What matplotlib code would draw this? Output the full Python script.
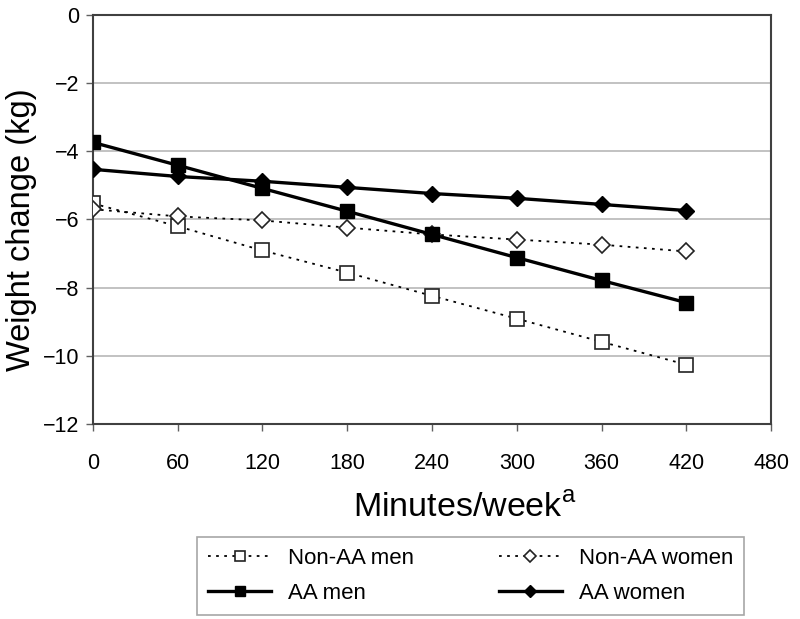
import matplotlib
matplotlib.use("Agg")
import matplotlib.pyplot as plt

plt.rcParams['font.family'] = ['Liberation Sans', 'DejaVu Sans']

minutes = [0, 60, 120, 180, 240, 300, 360, 420]
non_aa_men = [-5.53, -6.20, -6.91, -7.56, -8.24, -8.91, -9.59, -10.26]
non_aa_women = [-5.70, -5.91, -6.03, -6.24, -6.44, -6.59, -6.74, -6.94]
aa_men = [-3.74, -4.41, -5.09, -5.76, -6.44, -7.12, -7.79, -8.44]
aa_women = [-4.53, -4.74, -4.88, -5.06, -5.24, -5.38, -5.56, -5.74]

x_ticks = [0, 60, 120, 180, 240, 300, 360, 420, 480]
y_ticks = [0, -2, -4, -6, -8, -10, -12]

fig = plt.figure(figsize=(8, 6.19), dpi=100)
ax = fig.add_axes([0.116, 0.315, 0.848, 0.661])

for y in y_ticks:
    ax.axhline(y, color='#b8b8b8', lw=1.2, zorder=0)

ax.plot(minutes, non_aa_men, color='black', ls=(0, (1.5, 3)), lw=1.3,
        marker='s', ms=10.5, mfc='white', mec='#222222', mew=1.2, label='Non-AA men', zorder=3)
ax.plot(minutes, non_aa_women, color='black', ls=(0, (1.5, 3)), lw=1.3,
        marker='D', ms=8, mfc='white', mec='#222222', mew=1.2, label='Non-AA women', zorder=3)
ax.plot(minutes, aa_men, color='black', ls='-', lw=2.4,
        marker='s', ms=10.5, mfc='black', mec='black', label='AA men', zorder=4)
ax.plot(minutes, aa_women, color='black', ls='-', lw=2.4,
        marker='D', ms=8, mfc='black', mec='black', label='AA women', zorder=4)

ax.set_xlim(0, 480)
ax.set_ylim(-12, 0)
ax.set_xticks(x_ticks)
ax.set_yticks(y_ticks)
ax.set_yticklabels(['0' if v == 0 else '\u2212' + str(-v) for v in y_ticks])
ax.tick_params(axis='both', labelsize=15.5, length=5, width=1, color='#606060', direction='out')
ax.tick_params(axis='y', pad=4.5)
ax.tick_params(axis='x', pad=16)
for s in ax.spines.values():
    s.set_color('#404040')
    s.set_linewidth(1.5)

fig.text(22 / 800, 1 - 230 / 619, 'Weight change (kg)', fontsize=23.5, rotation=90,
         ha='center', va='center')
fig.text(465 / 800, 1 - 517 / 619, 'Minutes/week$^{\\mathregular{a}}$', fontsize=24.5,
         ha='center', va='baseline')

handles, labels = ax.get_legend_handles_labels()
order = [0, 2, 1, 3]
leg = fig.legend([handles[i] for i in order], [labels[i] for i in order],
                 ncol=2, loc='upper left',
                 bbox_to_anchor=(197 / 800, 1 - 537 / 619),
                 fontsize=16, frameon=True, fancybox=False,
                 edgecolor='#909090', handlelength=2.85, handletextpad=0.75,
                 columnspacing=3.8, borderpad=0.5, labelspacing=0.62, markerscale=0.75,
                 borderaxespad=0)
leg.get_frame().set_linewidth(1.2)

fig.savefig('out.png', dpi=100)
